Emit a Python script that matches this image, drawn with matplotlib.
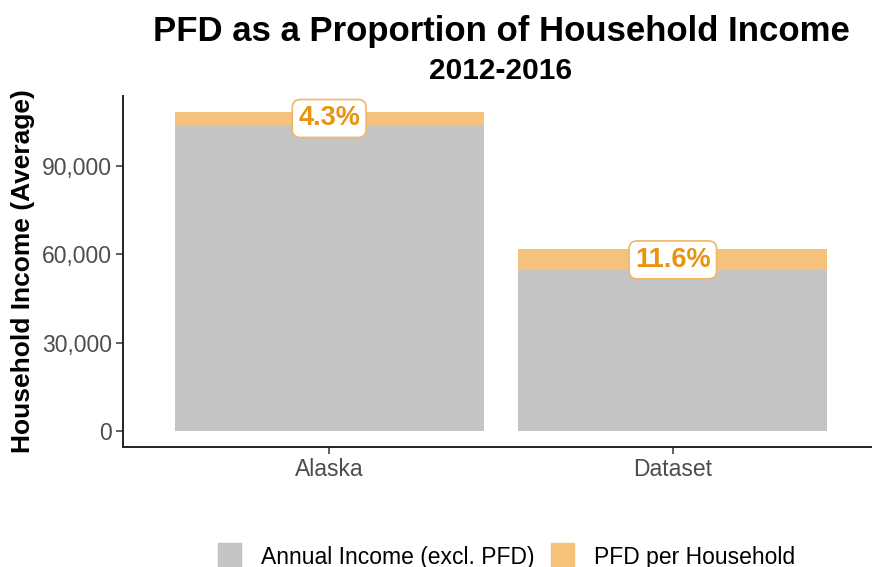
import matplotlib
matplotlib.use("Agg")
import matplotlib.pyplot as plt
from matplotlib.patches import Patch
from matplotlib.ticker import FuncFormatter

plt.rcParams["font.family"] = ["Liberation Sans", "DejaVu Sans"]

# data
regions = ["Alaska", "Dataset"]
annual_income = [103900, 54550]
pfd_per_household = [4650, 7150]
y_ticks = [0, 30000, 60000, 90000]

GRAY = "#C4C4C4"
ORANGE = "#F5C27B"
ORANGE_TEXT = "#E8940F"
TICK_GRAY = "#4D4D4D"

fig = plt.figure(figsize=(8.72, 5.67), dpi=100)
ax = fig.add_axes([123 / 872, 1 - 446.7 / 567, (879 - 123) / 872, (446.7 - 95.7) / 567])

xs = [1, 2]
ax.bar(xs, annual_income, width=0.9, color=GRAY, label="Annual Income (excl. PFD)")
ax.bar(xs, pfd_per_household, width=0.9, bottom=annual_income, color=ORANGE,
       label="PFD per Household")

totals = [a + p for a, p in zip(annual_income, pfd_per_household)]
for x, a, p, t in zip(xs, annual_income, pfd_per_household, totals):
    ax.text(x, a + p / 2, "{:.1f}%".format(100 * p / t), ha="center", va="center",
            fontsize=19.5, fontweight="bold", color=ORANGE_TEXT,
            bbox=dict(boxstyle="round,pad=0.22,rounding_size=0.3", fc="white",
                      ec="#F2B566", lw=1.2))

top = max(totals)
ax.set_xlim(0.4, 2.6)
ax.set_ylim(-0.05 * top, 1.05 * top)
ax.set_xticks(xs)
ax.set_xticklabels(regions)
ax.set_yticks(y_ticks)
ax.yaxis.set_major_formatter(FuncFormatter(lambda v, _: "{:,.0f}".format(v)))

for side in ["top", "right"]:
    ax.spines[side].set_visible(False)
for side in ["left", "bottom"]:
    ax.spines[side].set_color("#222222")
    ax.spines[side].set_linewidth(1.4)
ax.tick_params(axis="both", length=5, width=1.1, color="#333333",
               labelcolor=TICK_GRAY, labelsize=16.5, pad=3)

ax.set_ylabel("Household Income (Average)", fontsize=19, fontweight="bold",
              color="black", labelpad=5)

fig.text(501 / 872, 1 - 31 / 567, "PFD as a Proportion of Household Income",
         ha="center", va="center", fontsize=25, fontweight="bold")
fig.text(501 / 872, 1 - 71 / 567, "2012-2016", ha="center", va="center",
         fontsize=21.5, fontweight="bold")

handles = [Patch(color=GRAY), Patch(color=ORANGE)]
fig.legend(handles, ["Annual Income (excl. PFD)", "PFD per Household"],
           loc="center", bbox_to_anchor=(506.5 / 872, 1 - 556 / 567), ncol=2,
           frameon=False, fontsize=16.5, handlelength=1.0, handleheight=1.4,
           handletextpad=0.9, columnspacing=0.7, borderpad=0)

fig.savefig("out.png", dpi=100)
